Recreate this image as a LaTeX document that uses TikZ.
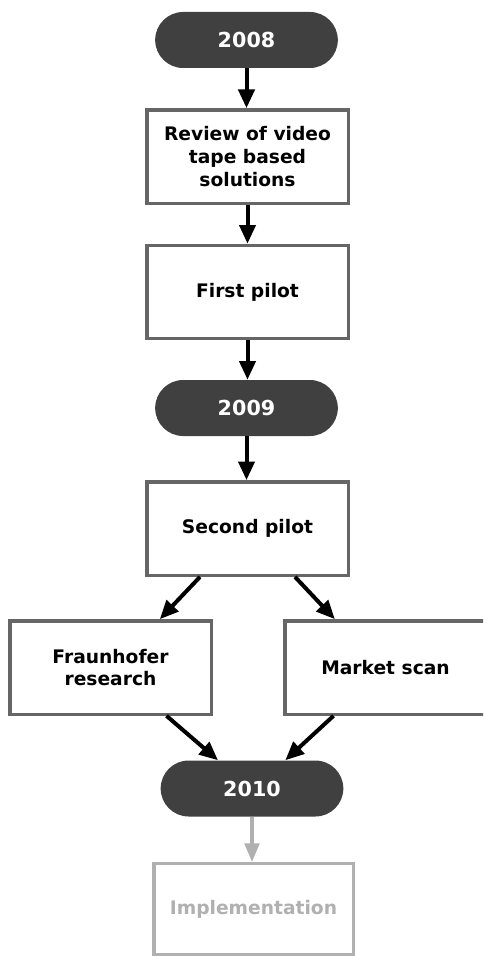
\documentclass[tikz,border=0pt]{standalone}
\usepackage{fontspec}
\setmainfont{DejaVu Sans}
\usetikzlibrary{arrows.meta}
\definecolor{pillgray}{HTML}{404040}
\definecolor{framegray}{HTML}{666666}
\definecolor{fadegray}{HTML}{B0B0B0}
\tikzset{
    jahr/.style={fill=pillgray, text=white, rounded corners=21pt,
        minimum width=137pt, minimum height=42pt, inner sep=0pt,
        font=\fontsize{15.5}{18}\selectfont\bfseries},
    kasten/.style={draw=framegray, line width=2.5pt, fill=white,
        minimum width=151pt, minimum height=70pt, inner sep=2pt,
        align=center, font=\fontsize{14}{17}\selectfont\bfseries},
    pfeil/.style={line width=3pt, -{Triangle[length=14pt,width=12pt]}},
}
\begin{document}
\begin{tikzpicture}[x=0.75pt,y=-0.75pt]
    \useasboundingbox (0,0) rectangle (483,956);
    \clip (0,0) rectangle (483,956);
    % Jahre
    \node[jahr] (y2008) at (246.5,40) {2008};
    \node[jahr] (y2009) at (246.5,408) {2009};
    \node[jahr] (y2010) at (252,788.5) {2010};
    % Schritte
    \node[kasten] (review) at (247.5,156.5) {Review of video\\tape based\\solutions};
    \node[kasten] (first) at (247.5,292) {First pilot};
    \node[kasten] (second) at (247.5,528.5) {Second pilot};
    \node[kasten] (fraun) at (110.5,667.5) {Fraunhofer\\research};
    \node[kasten] (market) at (385.5,667.5) {Market scan};
    \node[kasten, draw=fadegray, text=fadegray, minimum width=149.5pt,
        minimum height=68pt] (impl) at (253.5,909) {Implementation};
    % Pfeile
    \draw[pfeil] (y2008.south) -- (y2008.south |- review.north);
    \draw[pfeil] (review.south) -- (first.north);
    \draw[pfeil] (first.south) -- (first.south |- y2009.north);
    \draw[pfeil] (y2009.south) -- (y2009.south |- second.north);
    \draw[pfeil] ([xshift=-35.6pt]second.south) -- ([xshift=37pt]fraun.north);
    \draw[pfeil] ([xshift=35.6pt]second.south) -- ([xshift=-38pt]market.north);
    \draw[pfeil] ([xshift=42pt]fraun.south) -- ([xshift=-25.5pt]y2010.north);
    \draw[pfeil] ([xshift=-39pt]market.south) -- ([xshift=25pt]y2010.north);
    \draw[pfeil, draw=fadegray, line width=2.5pt,
        -{Triangle[length=14pt,width=11pt]}] (y2010.south) -- (y2010.south |- impl.north);
\end{tikzpicture}
\end{document}
